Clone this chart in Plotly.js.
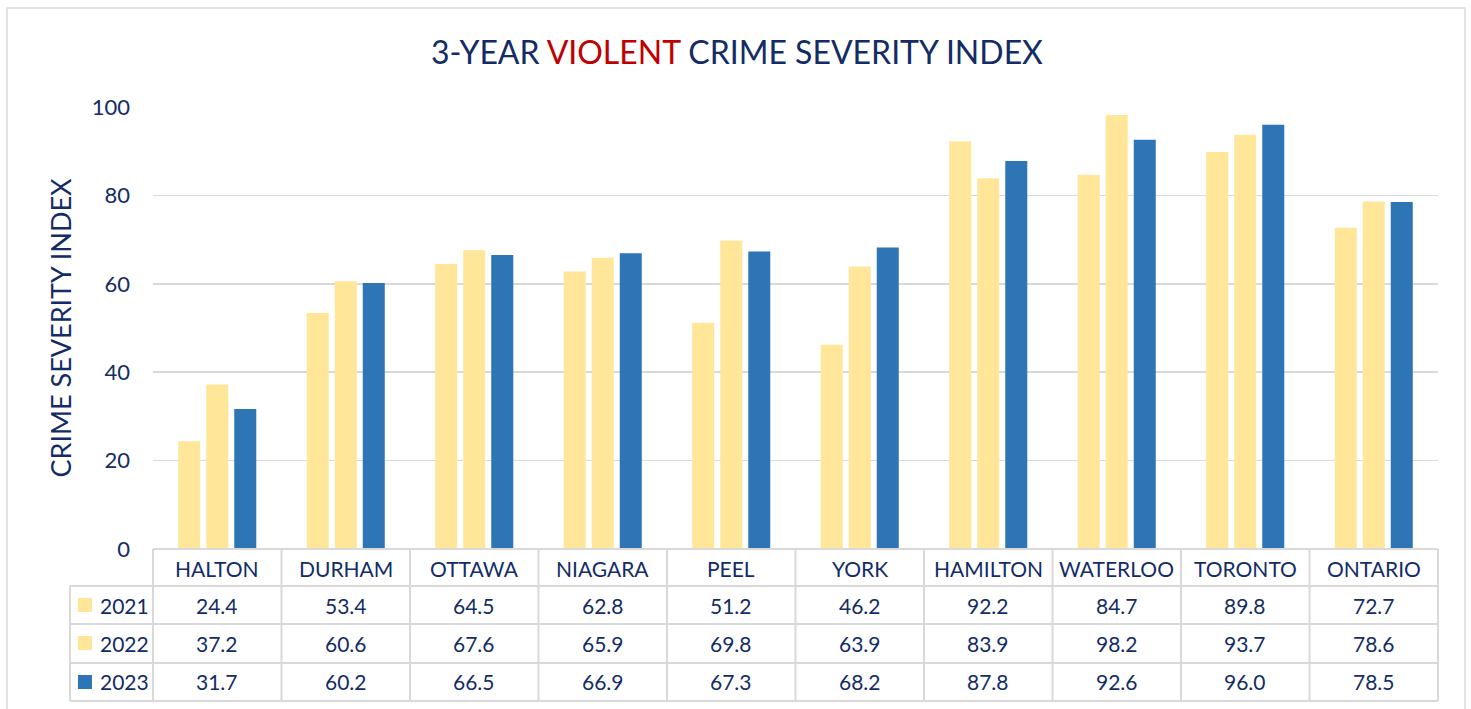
<!DOCTYPE html>
<html>
<head>
<meta charset="utf-8">
<script src="https://cdn.plot.ly/plotly-3.0.1.min.js"></script>
<style>html,body{margin:0;padding:0;background:#fff;}#chart{width:1471px;height:709px;}</style>
</head>
<body>
<div id="chart"></div>
<script>
// ---- data ----
const categories = ["HALTON","DURHAM","OTTAWA","NIAGARA","PEEL","YORK","HAMILTON","WATERLOO","TORONTO","ONTARIO"];
const years = ["2021","2022","2023"];
const values2021 = [24.4, 53.4, 64.5, 62.8, 51.2, 46.2, 92.2, 84.7, 89.8, 72.7];
const values2022 = [37.2, 60.6, 67.6, 65.9, 69.8, 63.9, 83.9, 98.2, 93.7, 78.6];
const values2023 = [31.7, 60.2, 66.5, 66.9, 67.3, 68.2, 87.8, 92.6, 96.0, 78.5];
const yTicks = [0, 20, 40, 60, 80, 100];

// ---- style ----
const NAVY = "#132C66";
const RED = "#C00000";
const YELLOW = "#FFE699";
const BLUE = "#2E75B6";
const GRID = "#D9D9D9";
const FONT = "Lato, 'Open Sans', sans-serif";
const seriesValues = [values2021, values2022, values2023];
const seriesColors = [YELLOW, YELLOW, BLUE];

const traces = seriesValues.map((vals, i) => ({
  type: "bar",
  name: years[i],
  x: categories,
  y: vals,
  marker: {color: seriesColors[i], line: {width: 0}},
  hoverinfo: "x+y+name"
}));

// table geometry (paper coords)
const rowLines = [0, -0.0837, -0.1697, -0.2579, -0.3439];
const rowCenters = [-0.1267, -0.2127, -0.3009];
const headerCenter = -0.043;
const leftEdge = -0.0646;

const shapes = [];
const lineStyle = {color: GRID, width: 2};
// outer chart border
shapes.push({type: "rect", xref: "paper", yref: "paper", x0: -0.1136, x1: 1.021, y0: -0.372, y1: 1.224,
  line: {color: GRID, width: 1.5}, fillcolor: "rgba(0,0,0,0)", layer: "below"});
// horizontal table lines
shapes.push({type: "line", xref: "paper", yref: "paper", x0: 0, x1: 1, y0: rowLines[0], y1: rowLines[0], line: lineStyle});
for (let r = 1; r < rowLines.length; r++) {
  shapes.push({type: "line", xref: "paper", yref: "paper", x0: leftEdge, x1: 1, y0: rowLines[r], y1: rowLines[r], line: lineStyle});
}
// vertical table lines
shapes.push({type: "line", xref: "paper", yref: "paper", x0: leftEdge, x1: leftEdge, y0: rowLines[1], y1: rowLines[4], line: lineStyle});
for (let c = 0; c <= categories.length; c++) {
  const xp = c / categories.length;
  shapes.push({type: "line", xref: "paper", yref: "paper", x0: xp, x1: xp, y0: rowLines[0], y1: rowLines[4], line: lineStyle});
}
// legend keys
seriesColors.forEach((col, i) => {
  shapes.push({type: "rect", xref: "paper", yref: "paper", x0: -0.0584, x1: -0.0475,
    y0: rowCenters[i] - 0.0158, y1: rowCenters[i] + 0.0158, line: {width: 0}, fillcolor: col});
});

const annotations = [];
const cellFont = {family: FONT, size: 21, color: NAVY};
categories.forEach((cat, j) => {
  annotations.push({xref: "x", yref: "paper", x: cat, y: headerCenter, text: cat, showarrow: false,
    font: cellFont, xanchor: "center", yanchor: "middle"});
  seriesValues.forEach((vals, i) => {
    annotations.push({xref: "x", yref: "paper", x: cat, y: rowCenters[i], text: vals[j].toFixed(1), showarrow: false,
      font: cellFont, xanchor: "center", yanchor: "middle"});
  });
});
years.forEach((yr, i) => {
  annotations.push({xref: "paper", yref: "paper", x: -0.0428, y: rowCenters[i], text: yr, showarrow: false,
    font: cellFont, xanchor: "left", yanchor: "middle"});
});

const layout = {
  width: 1471, height: 709,
  paper_bgcolor: "#fff", plot_bgcolor: "#fff",
  margin: {l: 153, r: 33, t: 107, b: 160},
  font: {family: FONT, color: NAVY},
  title: {
    text: '3-YEAR <span style="color:' + RED + '">VIOLENT</span> CRIME SEVERITY INDEX',
    font: {family: FONT, size: 32, color: NAVY},
    x: 0.501, xanchor: "center", xref: "container",
    y: 0.925, yanchor: "middle", yref: "container"
  },
  showlegend: false,
  barmode: "group",
  bargap: 0.346,
  bargroupgap: 0.214,
  xaxis: {
    type: "category", range: [-0.5, 9.5], showticklabels: false, showgrid: false,
    zeroline: false, showline: false, ticks: "", fixedrange: true
  },
  yaxis: {
    range: [0, 100], tickvals: yTicks, ticktext: yTicks.map(String),
    showgrid: true, gridcolor: GRID, gridwidth: 1.5, zeroline: false, showline: false,
    ticks: "", ticklabelstandoff: 22,
    tickfont: {family: FONT, size: 22, color: NAVY},
    title: {text: "CRIME SEVERITY INDEX", font: {family: FONT, size: 27, color: NAVY}, standoff: 12},
    fixedrange: true
  },
  shapes: shapes,
  annotations: annotations
};

Plotly.newPlot("chart", traces, layout, {displayModeBar: false, staticPlot: true});
</script>
</body>
</html>
